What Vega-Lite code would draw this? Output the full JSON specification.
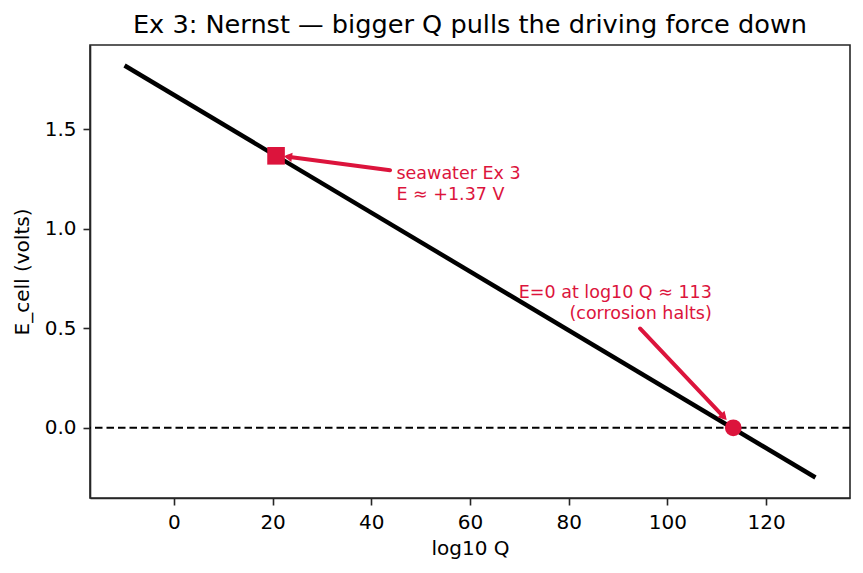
{
  "$schema": "https://vega.github.io/schema/vega-lite/v6.json",
  "width": 760,
  "height": 453,
  "autosize": {"type": "none"},
  "padding": {"left": 90, "top": 45, "right": 13, "bottom": 75},
  "background": "white",
  "title": {
    "text": "Ex 3: Nernst \u2014 bigger Q pulls the driving force down",
    "font": "DejaVu Sans",
    "fontSize": 25.6,
    "fontWeight": "normal",
    "color": "black",
    "anchor": "middle",
    "frame": "group",
    "baseline": "alphabetic",
    "offset": 11,
    "dy": 25
  },
  "config": {
    "font": "DejaVu Sans",
    "view": {"stroke": "#262626", "strokeWidth": 1.6},
    "axis": {
      "grid": false,
      "domainColor": "#262626",
      "domainWidth": 1.6,
      "tickColor": "#262626",
      "tickWidth": 1.6,
      "tickSize": 7,
      "labelFont": "DejaVu Sans",
      "labelFontSize": 20,
      "labelColor": "black",
      "titleFont": "DejaVu Sans",
      "titleFontSize": 20,
      "titleFontWeight": "normal",
      "titleColor": "black",
      "labelPadding": 7
    }
  },
  "datasets": {
    "line": [{"x": -10, "y": 1.821}, {"x": 130, "y": -0.25}],
    "zero": [{"y": 0}],
    "arrows": [
      {"x": 43.8, "y": 1.294, "x2": 23.1, "y2": 1.362},
      {"x": 94.45, "y": 0.499, "x2": 111.45, "y2": 0.054}
    ],
    "head1": [{"x": 23.1, "y": 1.362}],
    "head2": [{"x": 111.45, "y": 0.054}],
    "seawater": [{"x": 20.7, "y": 1.367}],
    "zeroPoint": [{"x": 113.35, "y": 0}],
    "label1": [
      {"x": 45.1, "y": 1.2526, "text": "seawater Ex 3"},
      {"x": 45.1, "y": 1.147, "text": "E \u2248 +1.37 V"}
    ],
    "label2": [
      {"x": 109.0, "y": 0.65, "text": "E=0 at log10 Q \u2248 113"},
      {"x": 109.0, "y": 0.546, "text": "(corrosion halts)"}
    ]
  },
  "layer": [
    {
      "data": {"name": "line"},
      "mark": {"type": "line", "color": "black", "strokeWidth": 4.4, "clip": true},
      "encoding": {
        "x": {
          "field": "x",
          "type": "quantitative",
          "scale": {"domain": [-17, 137], "nice": false, "zero": false},
          "axis": {"title": "log10 Q", "values": [0, 20, 40, 60, 80, 100, 120], "titlePadding": 6}
        },
        "y": {
          "field": "y",
          "type": "quantitative",
          "scale": {"domain": [-0.353, 1.924], "nice": false, "zero": false},
          "axis": {"title": "E_cell (volts)", "values": [0, 0.5, 1, 1.5], "format": ".1f", "titlePadding": 12}
        }
      }
    },
    {
      "data": {"name": "zero"},
      "mark": {"type": "rule", "color": "black", "strokeWidth": 2, "strokeDash": [7.5, 4]},
      "encoding": {"y": {"field": "y", "type": "quantitative"}}
    },
    {
      "data": {"name": "arrows"},
      "mark": {"type": "rule", "color": "#DC143C", "strokeWidth": 4, "strokeCap": "round"},
      "encoding": {
        "x": {"field": "x", "type": "quantitative"},
        "y": {"field": "y", "type": "quantitative"},
        "x2": {"field": "x2"},
        "y2": {"field": "y2"}
      }
    },
    {
      "data": {"name": "seawater"},
      "mark": {"type": "point", "shape": "square", "filled": true, "color": "#DC143C", "size": 310, "opacity": 1},
      "encoding": {
        "x": {"field": "x", "type": "quantitative"},
        "y": {"field": "y", "type": "quantitative"}
      }
    },
    {
      "data": {"name": "zeroPoint"},
      "mark": {"type": "point", "shape": "circle", "filled": true, "color": "#DC143C", "size": 280, "opacity": 1},
      "encoding": {
        "x": {"field": "x", "type": "quantitative"},
        "y": {"field": "y", "type": "quantitative"}
      }
    },
    {
      "data": {"name": "head1"},
      "mark": {"type": "point", "shape": "triangle-up", "filled": true, "color": "#DC143C", "size": 90, "opacity": 1, "angle": 277.5},
      "encoding": {
        "x": {"field": "x", "type": "quantitative"},
        "y": {"field": "y", "type": "quantitative"}
      }
    },
    {
      "data": {"name": "head2"},
      "mark": {"type": "point", "shape": "triangle-up", "filled": true, "color": "#DC143C", "size": 90, "opacity": 1, "angle": 136.6},
      "encoding": {
        "x": {"field": "x", "type": "quantitative"},
        "y": {"field": "y", "type": "quantitative"}
      }
    },
    {
      "data": {"name": "label1"},
      "mark": {"type": "text", "align": "left", "baseline": "alphabetic", "color": "#DC143C", "fontSize": 17.5, "font": "DejaVu Sans"},
      "encoding": {
        "x": {"field": "x", "type": "quantitative"},
        "y": {"field": "y", "type": "quantitative"},
        "text": {"field": "text"}
      }
    },
    {
      "data": {"name": "label2"},
      "mark": {"type": "text", "align": "right", "baseline": "alphabetic", "color": "#DC143C", "fontSize": 17.5, "font": "DejaVu Sans"},
      "encoding": {
        "x": {"field": "x", "type": "quantitative"},
        "y": {"field": "y", "type": "quantitative"},
        "text": {"field": "text"}
      }
    }
  ]
}
